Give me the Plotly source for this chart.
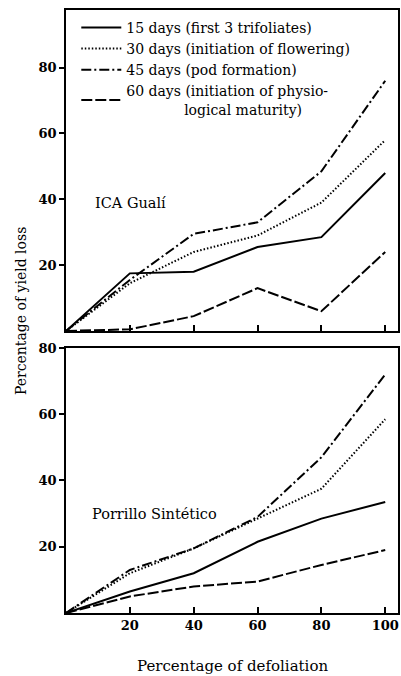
import plotly.graph_objects as go
from plotly.subplots import make_subplots

# Percentage of defoliation (x)
defoliation = [0, 20, 40, 60, 80, 100]

# ICA Gualí: percentage of yield loss
gual_15 = [0, 17.5, 18, 25.5, 28.5, 48]
gual_30 = [0, 14.5, 24, 29, 39, 58]
gual_45 = [0, 15.5, 29.5, 33, 48.5, 76]
gual_60 = [0, 0.5, 4.5, 13, 6, 24]

# Porrillo Sintético: percentage of yield loss
porr_15 = [0, 6.5, 12, 21.5, 28.5, 33.5]
porr_30 = [0, 12, 19.5, 28.5, 37.5, 58.5]
porr_45 = [0, 13, 19.5, 29, 47, 72]
porr_60 = [0, 5, 8, 9.5, 14.5, 19]

series_names = [
    "15 days (first 3 trifoliates)",
    "30 days (initiation of flowering)",
    "45 days (pod formation)",
    "60 days (initiation of physio-<br>" + "\u00a0" * 13 + "logical maturity)",
]
dash_styles = ["solid", "1.5px,2px", "10px,3px,2px,3px", "11px,3px"]

x_ticks = [20, 40, 60, 80, 100]
y_ticks = [20, 40, 60, 80]

SERIF = "DejaVu Serif, serif"

fig = make_subplots(rows=2, cols=1)

top_sets = [gual_15, gual_30, gual_45, gual_60]
bottom_sets = [porr_15, porr_30, porr_45, porr_60]

for i, (name, dash) in enumerate(zip(series_names, dash_styles)):
    fig.add_trace(
        go.Scatter(x=defoliation, y=top_sets[i], mode="lines", name=name,
                   line=dict(color="black", width=2, dash=dash),
                   showlegend=True, legendgroup=str(i)),
        row=1, col=1)
    fig.add_trace(
        go.Scatter(x=defoliation, y=bottom_sets[i], mode="lines", name=name,
                   line=dict(color="black", width=2, dash=dash),
                   showlegend=False, legendgroup=str(i)),
        row=2, col=1)

axis_common = dict(showline=True, linecolor="black", linewidth=1.5, mirror=True,
                   showgrid=False, zeroline=False)

fig.update_xaxes(range=[0, 104], tickvals=x_ticks, ticks="inside", ticklen=6,
                 tickwidth=1.5, tickcolor="black", **axis_common)
fig.update_xaxes(showticklabels=False, row=1, col=1)
fig.update_xaxes(showticklabels=True, row=2, col=1,
                 tickfont=dict(family=SERIF, size=13, color="black", weight="bold"))

fig.update_yaxes(tickvals=y_ticks, ticks="outside", ticklen=5, tickwidth=1.5,
                 tickcolor="black",
                 tickfont=dict(family=SERIF, size=13, color="black", weight="bold"),
                 **axis_common)
fig.update_yaxes(range=[0, 97.5], domain=[0.4677, 1.0], row=1, col=1)
fig.update_yaxes(range=[0, 80], domain=[0.0, 0.4395], row=2, col=1)

fig.update_layout(
    width=401, height=676,
    margin=dict(l=66, r=1, t=10, b=63),
    paper_bgcolor="white", plot_bgcolor="white",
    font=dict(family=SERIF, color="black"),
    showlegend=True,
    legend=dict(x=0.031, y=0.997, xanchor="left", yanchor="top",
                bgcolor="rgba(0,0,0,0)", font=dict(family=SERIF, size=14, color="black"),
                tracegroupgap=0, itemwidth=40),
    annotations=[
        dict(text="ICA Gualí", x=8.4, y=39, xref="x", yref="y", xanchor="left",
             showarrow=False, font=dict(family=SERIF, size=14.5, color="black")),
        dict(text="Porrillo Sintético", x=7.5, y=30, xref="x2", yref="y2", xanchor="left",
             showarrow=False, font=dict(family=SERIF, size=14.5, color="black")),
        dict(text="Percentage of yield loss", x=-0.165, y=0.501, xref="paper", yref="paper",
             textangle=-90, showarrow=False, font=dict(family=SERIF, size=14, color="black")),
        dict(text="Percentage of defoliation", x=0.5, y=-0.088, xref="paper", yref="paper",
             yanchor="middle", showarrow=False, font=dict(family=SERIF, size=15, color="black")),
    ],
)

fig.write_html("out.html")
